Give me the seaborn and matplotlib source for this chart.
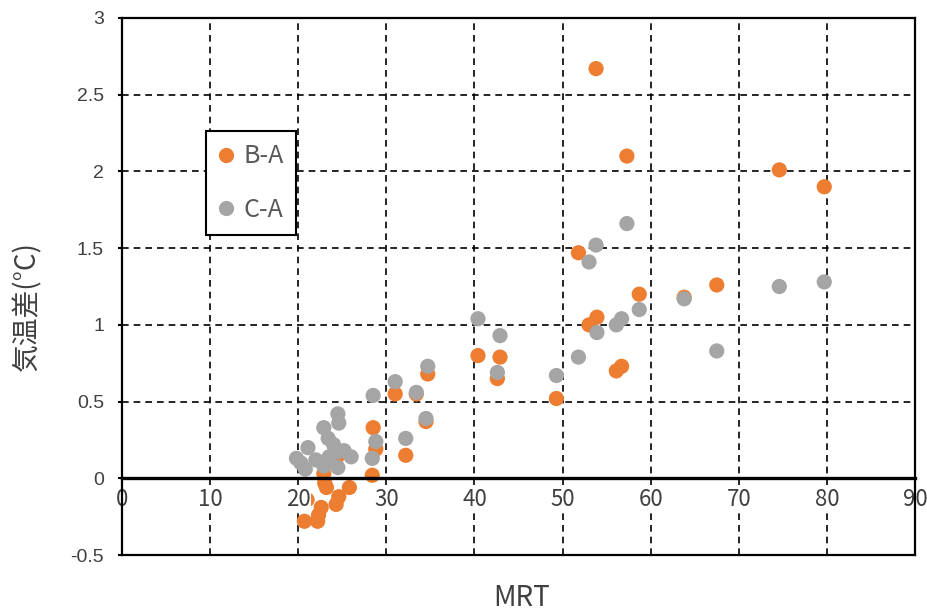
import matplotlib
matplotlib.use("Agg")
import matplotlib.pyplot as plt
import seaborn as sns
import pandas as pd
import numpy as np

# ---- data ----
mrt_ba = [79.7, 74.6, 67.5, 63.8, 58.7, 57.3, 56.7, 56.1, 53.8, 53.9, 53.0, 51.8,
          49.3, 42.9, 42.6, 40.4, 34.7, 34.5, 33.4, 31.0, 32.2, 28.5, 28.8, 28.4,
          24.4, 22.9, 23.0, 23.2, 25.8, 24.6, 24.3, 22.6, 22.3, 22.2, 20.7, 21.0]
dt_ba = [1.90, 2.01, 1.26, 1.18, 1.20, 2.10, 0.73, 0.70, 2.67, 1.05, 1.00, 1.47,
         0.52, 0.79, 0.65, 0.80, 0.68, 0.37, 0.55, 0.55, 0.15, 0.33, 0.19, 0.02,
         0.14, 0.03, -0.03, -0.06, -0.06, -0.12, -0.17, -0.19, -0.24, -0.28, -0.28, -0.14]

mrt_ca = [79.7, 74.6, 67.5, 63.8, 58.7, 57.3, 56.7, 56.1, 53.8, 53.9, 53.0, 51.8,
          49.3, 42.9, 42.6, 40.4, 34.7, 34.5, 33.4, 31.0, 32.2, 28.5, 28.8, 28.4,
          22.9, 24.6, 24.5, 23.4, 21.1, 19.8, 20.3, 20.8, 22.0, 22.9, 24.5, 24.3,
          25.2, 26.0, 23.5, 24.0]
dt_ca = [1.28, 1.25, 0.83, 1.17, 1.10, 1.66, 1.04, 1.00, 1.52, 0.95, 1.41, 0.79,
         0.67, 0.93, 0.69, 1.04, 0.73, 0.39, 0.56, 0.63, 0.26, 0.54, 0.24, 0.13,
         0.33, 0.36, 0.42, 0.26, 0.20, 0.13, 0.10, 0.06, 0.12, 0.08, 0.07, 0.17,
         0.18, 0.14, 0.14, 0.22]

series_names = ["B-A", "C-A"]
series_colors = ["#ED7D31", "#A5A5A5"]
x_ticks = [0, 10, 20, 30, 40, 50, 60, 70, 80, 90]
y_ticks = [-0.5, 0, 0.5, 1, 1.5, 2, 2.5, 3]
y_tick_labels = ["-0.5", "0", "0.5", "1", "1.5", "2", "2.5", "3"]
x_label = "MRT"
y_label = "気温差(°C)"

df = pd.concat([
    pd.DataFrame({"MRT": mrt_ba, "diff": dt_ba, "series": series_names[0]}),
    pd.DataFrame({"MRT": mrt_ca, "diff": dt_ca, "series": series_names[1]}),
], ignore_index=True)

jp = ["Noto Sans CJK JP", "DejaVu Sans"]
txt_color = "#404040"

fig, ax = plt.subplots(figsize=(9.28, 6.12), dpi=100)
fig.subplots_adjust(left=0.1315, right=0.986, bottom=0.0931, top=0.9706)

# manual dashed grid under the points
for xv in x_ticks[1:-1]:
    ax.axvline(xv, color="black", lw=1.2, ls=(0, (4, 3)), zorder=0.5)
for yv in y_ticks[1:-1]:
    if yv != 0:
        ax.axhline(yv, color="black", lw=1.2, ls=(0, (4, 3)), zorder=0.5)

sns.scatterplot(data=df, x="MRT", y="diff", hue="series", hue_order=series_names,
                palette=series_colors, s=120, edgecolor="none", linewidth=0,
                ax=ax, zorder=1)

ax.set_xlim(0, 90)
ax.set_ylim(-0.5, 3)
ax.set_xticks(x_ticks)
ax.set_yticks(y_ticks)
ax.set_yticklabels(y_tick_labels)

for s in ["top", "right", "left"]:
    ax.spines[s].set_color("black")
    ax.spines[s].set_linewidth(1.6)
ax.spines["bottom"].set_position(("data", 0))
ax.spines["bottom"].set_linewidth(2.4)
ax.spines["bottom"].set_color("black")
ax.axhline(-0.5, color="black", lw=1.6, clip_on=False, zorder=3)

ax.tick_params(axis="x", length=0, pad=7, labelsize=16, labelcolor="#404040")
ax.tick_params(axis="y", length=3, width=1.5, direction="out", pad=10,
               labelsize=14, labelcolor="#404040")
for lbl in ax.get_xticklabels():
    lbl.set_family(jp)
    lbl.set_bbox(dict(facecolor="white", edgecolor="none", pad=0.5))
for lbl in ax.get_yticklabels():
    lbl.set_family(["Liberation Sans", "DejaVu Sans"])

ax.set_xlabel(x_label, fontsize=20, family=jp, color=txt_color)
ax.xaxis.set_label_coords(0.504, -0.052)
ax.set_ylabel(y_label, fontsize=20, family=jp, color=txt_color)
ax.yaxis.set_label_coords(-0.101, 0.464)

handles, labels = ax.get_legend_handles_labels()
leg = ax.legend(handles, labels, loc="upper left", bbox_to_anchor=(0.106, 0.79),
                borderaxespad=0, frameon=True, fancybox=False, edgecolor="black",
                framealpha=1, labelspacing=1.1, handlelength=0.6,
                handletextpad=0.4, borderpad=0.5,
                prop={"family": jp, "size": 18})
leg.get_frame().set_linewidth(1.5)
for t in leg.get_texts():
    t.set_color("#595959")

fig.savefig("out.png", dpi=100)
